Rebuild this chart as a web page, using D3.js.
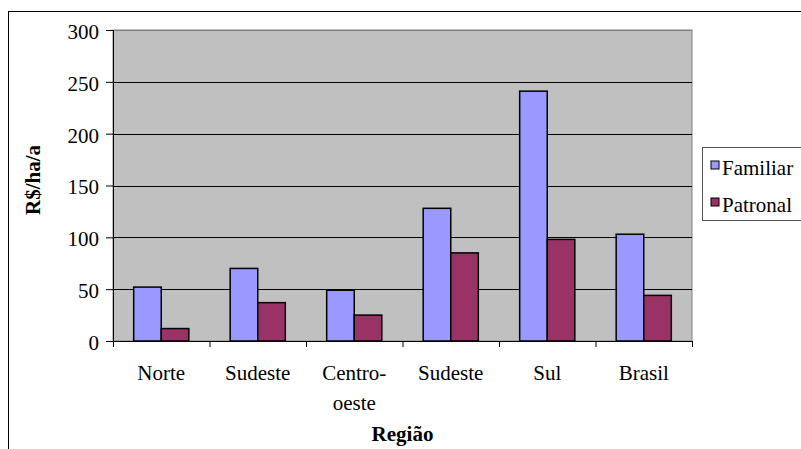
<!DOCTYPE html>
<html>
<head>
<meta charset="utf-8">
<script src="https://cdn.jsdelivr.net/npm/d3@7"></script>
<style>
  body { margin: 0; background: #fff; }
</style>
</head>
<body>
<div id="container"></div>
<script>
const width = 801,
  height = 449,
  margin = { top: 30, right: 109, bottom: 108, left: 113 };

const fontFamily = "Liberation Serif, DejaVu Serif, Tinos, Times New Roman, serif";

// data
const regions = ["Norte", "Sudeste", "Centro-oeste", "Sudeste", "Sul", "Brasil"];
const seriesNames = ["Familiar", "Patronal"];
const familiar = [52, 70, 49, 128, 241, 103];
const patronal = [12, 37, 25, 85, 98, 44];
const yTicks = [0, 50, 100, 150, 200, 250, 300];
const colors = ["#9999FF", "#993366"];

const rows = regions.map((r, i) => ({ i, region: r, values: [familiar[i], patronal[i]] }));

const svg = d3.select("#container")
  .append("svg")
  .attr("width", width)
  .attr("height", height)
  .style("font-family", fontFamily);

// outer chart border (runs off the right/bottom)
svg.append("rect")
  .attr("x", 8.5).attr("y", 11.5)
  .attr("width", 900).attr("height", 600)
  .attr("fill", "white")
  .attr("stroke", "black");

const plotW = width - margin.left - margin.right,
  plotH = height - margin.top - margin.bottom;

const x0 = d3.scaleBand()
  .domain(d3.range(regions.length))
  .range([margin.left, margin.left + plotW]);

const x1 = d3.scaleBand()
  .domain(d3.range(seriesNames.length))
  .range([0, x0.bandwidth()])
  .paddingOuter(0.75);

const xLin = d3.scaleLinear()
  .domain([0, regions.length])
  .range([margin.left, margin.left + plotW]);

const y = d3.scaleLinear()
  .domain([0, 300])
  .range([margin.top + plotH, margin.top]);

// plot area
svg.append("rect")
  .attr("x", margin.left).attr("y", margin.top)
  .attr("width", plotW).attr("height", plotH)
  .attr("fill", "#C0C0C0")
  .attr("stroke", "#808080");

// gridlines
svg.append("g")
  .selectAll("line")
  .data(yTicks.slice(1))
  .join("line")
  .attr("x1", margin.left).attr("x2", margin.left + plotW)
  .attr("y1", d => Math.round(y(d)) + 0.5).attr("y2", d => Math.round(y(d)) + 0.5)
  .attr("stroke", d => d === 300 ? "#808080" : "black");

// bars
svg.append("g")
  .selectAll("g")
  .data(rows)
  .join("g")
  .attr("transform", d => `translate(${x0(d.i)},0)`)
  .selectAll("rect")
  .data(d => d.values.map((v, k) => ({ k, v })))
  .join("rect")
  .attr("x", d => x1(d.k))
  .attr("width", x1.bandwidth())
  .attr("y", d => y(d.v))
  .attr("height", d => y(0) - y(d.v))
  .attr("fill", d => colors[d.k])
  .attr("stroke", "black")
  .attr("stroke-width", 1.5);

// y axis
const yAxis = d3.axisLeft(y)
  .tickValues(yTicks)
  .tickSize(7)
  .tickPadding(7);

const yAxisGroup = svg.append("g")
  .attr("transform", `translate(${margin.left},0)`)
  .call(yAxis);
yAxisGroup.attr("font-family", null);
yAxisGroup.select(".domain").attr("stroke", "black");
yAxisGroup.selectAll("text")
  .style("font-family", fontFamily)
  .style("font-size", "21px")
  .attr("fill", "black")
  .attr("dy", "0.4em");

// x axis tick marks at band edges
const xTickAxis = d3.axisBottom(xLin)
  .tickValues(d3.range(regions.length + 1))
  .tickSize(6)
  .tickFormat("");
svg.append("g")
  .attr("transform", `translate(0,${margin.top + plotH})`)
  .call(xTickAxis)
  .select(".domain").attr("stroke", "black");

// x category labels
const xLabelAxis = d3.axisBottom(x0)
  .tickSize(0)
  .tickPadding(24)
  .tickFormat(i => regions[i]);
const xLabelGroup = svg.append("g")
  .attr("transform", `translate(0,${margin.top + plotH})`)
  .call(xLabelAxis);
xLabelGroup.attr("font-family", null);
xLabelGroup.select(".domain").remove();
xLabelGroup.selectAll("text")
  .style("font-family", fontFamily)
  .style("font-size", "21px")
  .attr("fill", "black")
  .each(function (i) {
    const parts = regions[i].split("-");
    if (parts.length > 1) {
      const t = d3.select(this).text(null);
      t.append("tspan").attr("x", 0).text(parts[0] + "-");
      t.append("tspan").attr("x", 0).attr("dy", "1.45em").text(parts[1]);
    }
  });

// axis titles
svg.append("text")
  .attr("x", (margin.left + margin.left + plotW) / 2)
  .attr("y", 441)
  .attr("text-anchor", "middle")
  .style("font-family", fontFamily)
  .style("font-size", "21px")
  .style("font-weight", "bold")
  .text("Região");

svg.append("clipPath")
  .attr("id", "ytitle-clip")
  .append("rect")
  .attr("x", 0).attr("y", 146)
  .attr("width", 100).attr("height", 200);

svg.append("g")
  .attr("clip-path", "url(#ytitle-clip)")
  .append("text")
  .attr("transform", "translate(40,215) rotate(-90)")
  .style("font-family", fontFamily)
  .style("font-size", "21px")
  .style("font-weight", "bold")
  .text("R$/ha/ano");

// legend
const legend = svg.append("g");
legend.append("rect")
  .attr("x", 702.5).attr("y", 147.5)
  .attr("width", 150).attr("height", 73)
  .attr("fill", "white")
  .attr("stroke", "#555");

const legendItems = legend.selectAll("g.item")
  .data(seriesNames)
  .join("g")
  .attr("class", "item")
  .attr("transform", (d, k) => `translate(711,${161 + k * 37})`);

legendItems.append("rect")
  .attr("width", 8).attr("height", 8)
  .attr("fill", (d, k) => colors[k])
  .attr("stroke", "black");

legendItems.append("text")
  .attr("x", 11)
  .attr("y", 14)
  .style("font-family", fontFamily)
  .style("font-size", "21px")
  .text(d => d);
</script>
</body>
</html>
